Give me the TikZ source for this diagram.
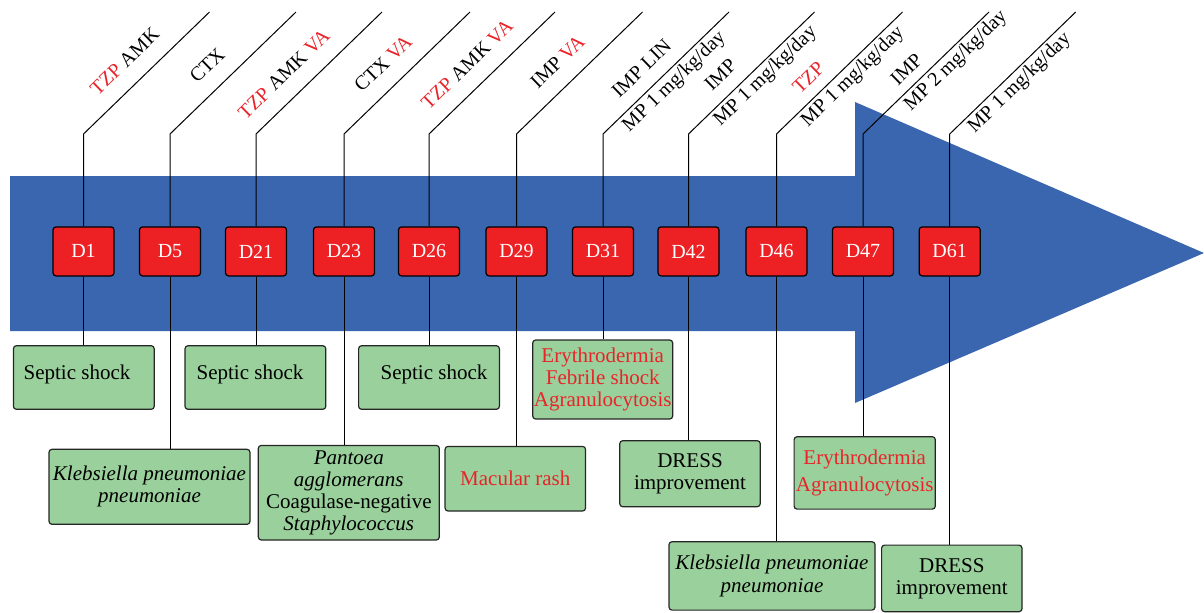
\documentclass[tikz,border=0pt]{standalone}
\usepackage{fontspec}
\setmainfont{Liberation Serif}
\newfontfamily\serifx{Liberation Serif}
\usetikzlibrary{backgrounds}
\definecolor{arrowblue}{RGB}{58,102,176}
\definecolor{boxred}{RGB}{237,32,36}
\definecolor{txtred}{RGB}{232,36,42}
\definecolor{boxgreen}{RGB}{153,208,155}
\newcommand{\rd}[1]{\textcolor{txtred}{#1}}
\begin{document}
\begin{tikzpicture}[x=0.5pt,y=-0.5pt,
  conn/.style={draw=black,line width=0.5pt},
  dbox/.style={draw=black,line width=0.6pt,fill=boxred,rounded corners=1.5pt,
    minimum width=30.5pt,minimum height=24.5pt,inner sep=0pt,text=white,
    font=\serifx\fontsize{10}{12}\selectfont},
  gbox/.style={draw=black!85,line width=0.6pt,fill=boxgreen,rounded corners=1.5pt,
    inner sep=0pt,align=center,font=\serifx\fontsize{10.5}{11}\selectfont},
  gtext/.style={inner sep=0pt,anchor=base,font=\serifx\fontsize{10.5}{11}\selectfont},
  lbl/.style={inner sep=0pt,anchor=base west,rotate=44.07,font=\serifx\fontsize{10}{12}\selectfont}]
\useasboundingbox (0,0) rectangle (1204,612);

% bends and tops
\foreach \n/\x in {1/83.5,5/170,21/256,23/344,26/429,29/516.5,31/603,42/688.5,46/776.5,47/863,61/949.7}{
  \coordinate (b\n) at (\x,134);
  \coordinate (t\n) at (\x+126,12);
}

% day boxes
\node[dbox] (d1) at (83.5,251.4) {D1};
\node[dbox] (d5) at (170,251.4) {D5};
\node[dbox] (d21) at (256,251.4) {D21};
\node[dbox] (d23) at (344,251.4) {D23};
\node[dbox] (d26) at (429,251.4) {D26};
\node[dbox] (d29) at (516.5,251.4) {D29};
\node[dbox] (d31) at (603,251.4) {D31};
\node[dbox] (d42) at (688.5,251.4) {D42};
\node[dbox] (d46) at (776.5,251.4) {D46};
\node[dbox] (d47) at (863,251.4) {D47};
\node[dbox] (d61) at (949.7,251.4) {D61};

% event boxes
\node[gbox,minimum width=70.4pt,minimum height=31.8pt] (g1) at (83.8,377.5) {};
\node[gbox,minimum width=70.4pt,minimum height=31.8pt] (g21) at (255.4,377.5) {};
\node[gbox,minimum width=70.4pt,minimum height=31.8pt] (g26) at (429,377.5) {};
\node[gtext] (s1) at (77,379) {Septic shock};
\node[gtext] (s21) at (250,379) {Septic shock};
\node[gtext] (s26) at (434,379) {Septic shock};
\node[gbox,minimum width=100.5pt,minimum height=37.5pt] (g5) at (149.5,486.8)
  {\textit{Klebsiella pneumoniae}\\\textit{pneumoniae}};
\node[gbox,minimum width=90.5pt,minimum height=47.3pt] (g23) at (348.8,492.7)
  {\textit{Pantoea}\\\textit{agglomerans}\\Coagulase-negative\\\textit{Staphylococcus}};
\node[gbox,minimum width=70.25pt,minimum height=32.3pt,text=txtred] (g29) at (515.3,478.7)
  {Macular rash};
\node[gbox,minimum width=70pt,minimum height=39.5pt,text=txtred] (g31) at (602.7,379.5)
  {Erythrodermia\\Febrile shock\\Agranulocytosis};
\node[gbox,minimum width=70.25pt,minimum height=33pt] (g42) at (690,473.7)
  {DRESS\\improvement};
\node[gbox,minimum width=70.6pt,minimum height=36.2pt,text=txtred] (g47) at (864.7,472.9)
  {Erythrodermia\\[2.5pt]Agranulocytosis};
\node[gbox,minimum width=103pt,minimum height=34.2pt] (g46) at (772,575.9)
  {\textit{Klebsiella pneumoniae}\\[0.5pt]\textit{pneumoniae}};
\node[gbox,minimum width=70.2pt,minimum height=33.3pt] (g61) at (951.8,578.4)
  {DRESS\\improvement};

% arrow and connectors behind the boxes
\begin{pgfonlayer}{background}
\fill[arrowblue] (10,176) -- (855,176) -- (855,102) -- (1204,253) -- (855,403) -- (855,331) -- (10,331) -- cycle;
\foreach \n in {1,5,21,23,26,29,31,42,46,47,61}{
  \draw[conn] (d\n.north) -- (b\n) -- (t\n);
}
\foreach \n/\g in {1/g1,5/g5,21/g21,23/g23,26/g26,29/g29,31/g31,42/g42,46/g46,47/g47,61/g61}{
  \draw[conn] (d\n.south) -- (d\n.south |- \g.north);
}
\end{pgfonlayer}

% drug labels
\begin{scope}[shift={(b1)},rotate=44.07]
  \node[lbl] (l1) at (36,-17) {\rd{TZP} AMK};
\end{scope}
\begin{scope}[shift={(b5)},rotate=44.07]
  \node[lbl] (l5) at (54,-17) {CTX};
\end{scope}
\begin{scope}[shift={(b21)},rotate=44.07]
  \node[lbl] (l21) at (2,-17) {\rd{TZP} AMK \rd{VA}};
\end{scope}
\begin{scope}[shift={(b23)},rotate=44.07]
  \node[lbl] (l23) at (41,-17) {CTX \rd{VA}};
\end{scope}
\begin{scope}[shift={(b26)},rotate=44.07]
  \node[lbl] (l26) at (16,-17) {\rd{TZP} AMK \rd{VA}};
\end{scope}
\begin{scope}[shift={(b29)},rotate=44.07]
  \node[lbl] (l29) at (46,-17) {IMP \rd{VA}};
\end{scope}
\begin{scope}[shift={(b31)},rotate=44.07]
  \node[lbl] (l31a) at (36,-14) {IMP LIN};
  \node[lbl] (l31b) at (20,17) {MP 1 mg/kg/day};
\end{scope}
\begin{scope}[shift={(b42)},rotate=44.07]
  \node[lbl] (l42a) at (46,-14) {IMP};
  \node[lbl] (l42b) at (28,17) {MP 1 mg/kg/day};
\end{scope}
\begin{scope}[shift={(b46)},rotate=44.07]
  \node[lbl] (l46a) at (44,-12) {\rd{TZP}};
  \node[lbl] (l46b) at (27,17) {MP 1 mg/kg/day};
\end{scope}
\begin{scope}[shift={(b47)},rotate=44.07]
  \node[lbl] (l47a) at (58,-10) {IMP};
  \node[lbl] (l47b) at (50,17) {MP 2 mg/kg/day};
\end{scope}
\begin{scope}[shift={(b61)},rotate=44.07]
  \node[lbl] (l61) at (18,17) {MP 1 mg/kg/day};
\end{scope}
\end{tikzpicture}
\end{document}
